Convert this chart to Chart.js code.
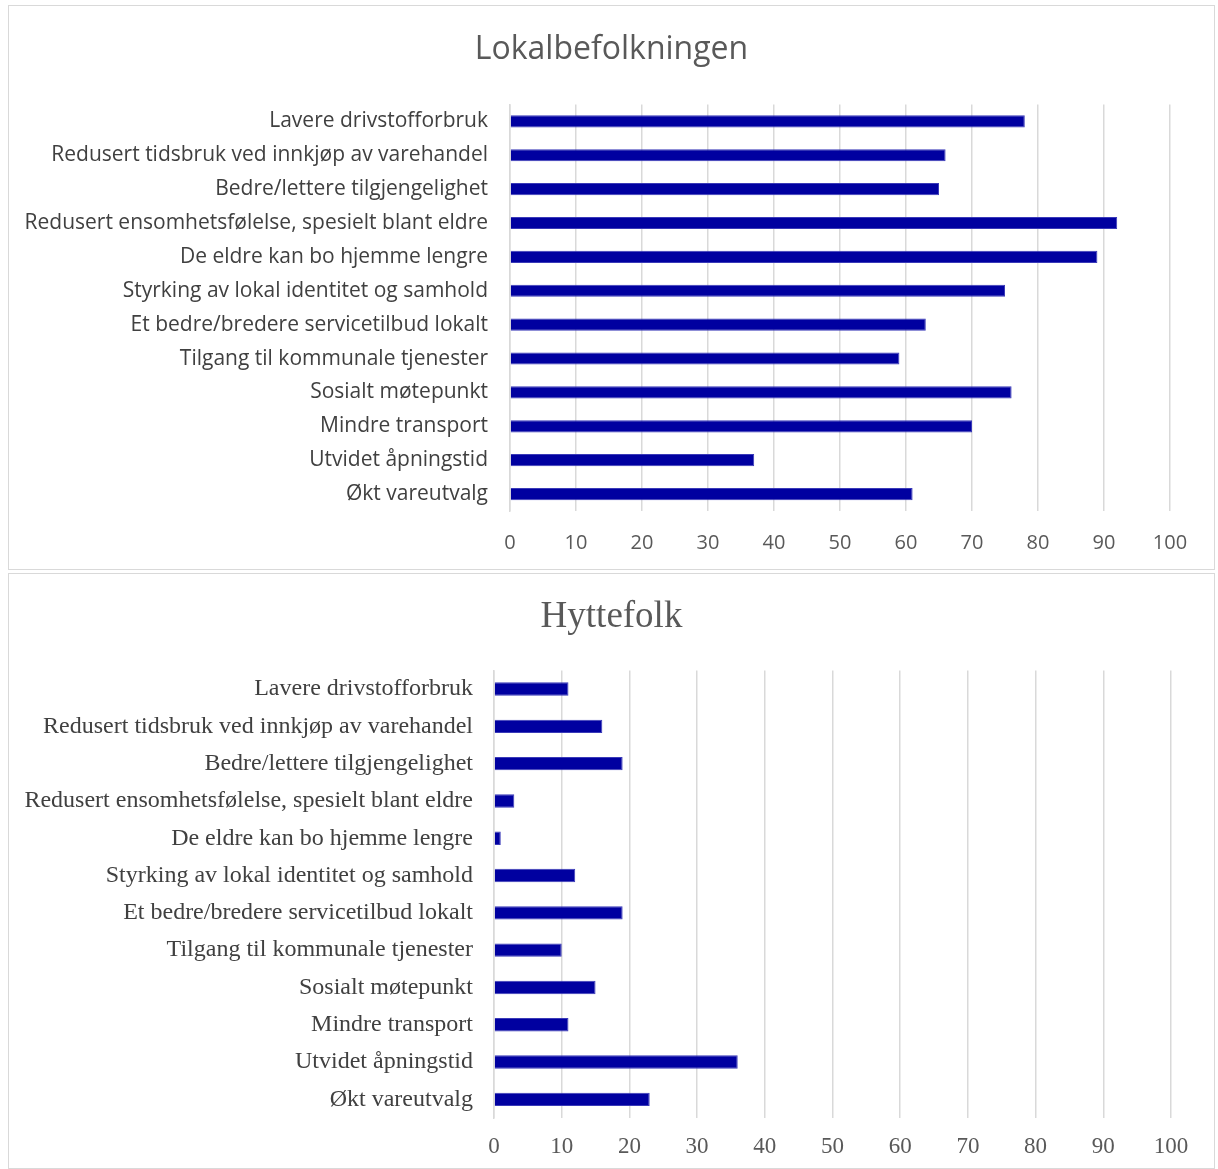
<!DOCTYPE html>
<html>
<head>
<meta charset="utf-8">
<script src="https://cdn.jsdelivr.net/npm/chart.js@4/dist/chart.umd.min.js"></script>
<style>
  body { margin: 0; background: #fff; width: 1218px; height: 1169px; overflow: hidden; }
  .panel { position: absolute; left: 8px; width: 1205px; border: 1px solid #d9d9d9; background: #fff; }
  #topPanel { top: 5px; height: 563px; }
  #bottomPanel { top: 573px; height: 594px; }
  canvas { display: block; }
</style>
</head>
<body>
<div class="panel" id="topPanel"><canvas id="lokalChart" width="1205" height="563"></canvas></div>
<div class="panel" id="bottomPanel"><canvas id="hytteChart" width="1205" height="594"></canvas></div>
<script>
  const categories = [
    'Lavere drivstofforbruk',
    'Redusert tidsbruk ved innkjøp av varehandel',
    'Bedre/lettere tilgjengelighet',
    'Redusert ensomhetsfølelse, spesielt blant eldre',
    'De eldre kan bo hjemme lengre',
    'Styrking av lokal identitet og samhold',
    'Et bedre/bredere servicetilbud lokalt',
    'Tilgang til kommunale tjenester',
    'Sosialt møtepunkt',
    'Mindre transport',
    'Utvidet åpningstid',
    'Økt vareutvalg'
  ];
  const lokalValues = [78, 66, 65, 92, 89, 75, 63, 59, 76, 70, 37, 61];
  const hytteValues = [11, 16, 19, 3, 1, 12, 19, 10, 15, 11, 36, 23];
  const xTicks = [0, 10, 20, 30, 40, 50, 60, 70, 80, 90, 100];

  const BAR_COLOR = '#0000a0';

  function makeChart(id, title, values, cfg) {
    new Chart(document.getElementById(id), {
      type: 'bar',
      data: {
        labels: categories,
        datasets: [{
          data: values,
          backgroundColor: BAR_COLOR,
          borderColor: '#3a3ab8',
          borderWidth: 1,
          categoryPercentage: 1,
          barPercentage: cfg.barPct,
          yAxisID: 'y'
        }]
      },
      options: {
        indexAxis: 'y',
        responsive: false,
        animation: false,
        layout: { padding: 0 },
        plugins: {
          legend: { display: false },
          tooltip: { enabled: false },
          title: {
            display: true,
            text: title,
            color: '#595959',
            font: { family: cfg.family, size: cfg.titleSize, weight: 'normal' },
            padding: { top: cfg.titleTop, bottom: cfg.titleBottom }
          }
        },
        scales: {
          x: {
            min: 0,
            max: 100,
            afterBuildTicks: scale => { scale.ticks = xTicks.map(v => ({ value: v })); },
            afterFit: scale => { scale.height = cfg.xHeight; },
            grid: { color: '#d9d9d9', lineWidth: 1.5, drawTicks: false },
            border: { display: false },
            ticks: {
              color: '#595959',
              padding: cfg.xPad,
              font: { family: cfg.family, size: cfg.tickSize }
            }
          },
          y: {
            afterFit: scale => { scale.width = cfg.yWidth; },
            grid: { display: false, drawTicks: false },
            border: { display: true, color: '#d9d9d9', width: 1.5 },
            ticks: {
              color: '#404040',
              padding: cfg.yPad,
              autoSkip: false,
              font: { family: cfg.family, size: cfg.labelSize }
            }
          },
          // empty right-hand axis: leaves room for the "100" label
          // without shifting the centred title
          spacer: {
            type: 'category',
            position: 'right',
            afterFit: scale => { scale.width = cfg.rightGap; },
            grid: { display: false, drawTicks: false },
            border: { display: false },
            ticks: { display: false }
          }
        }
      }
    });
  }

  makeChart('lokalChart', 'Lokalbefolkningen', lokalValues, {
    family: '"Open Sans", "Noto Sans", sans-serif',
    titleSize: 32, titleTop: 25, titleBottom: 35,
    tickSize: 20, labelSize: 21,
    xHeight: 58, xPad: 20, barPct: 0.36,
    yWidth: 501, yPad: 22, rightGap: 44
  });

  makeChart('hytteChart', 'Hyttefolk', hytteValues, {
    family: '"Liberation Serif", "DejaVu Serif", serif',
    titleSize: 37, titleTop: 21, titleBottom: 31,
    tickSize: 23, labelSize: 24,
    xHeight: 50, xPad: 15, barPct: 0.36,
    yWidth: 485, yPad: 21, rightGap: 43
  });
</script>
</body>
</html>
